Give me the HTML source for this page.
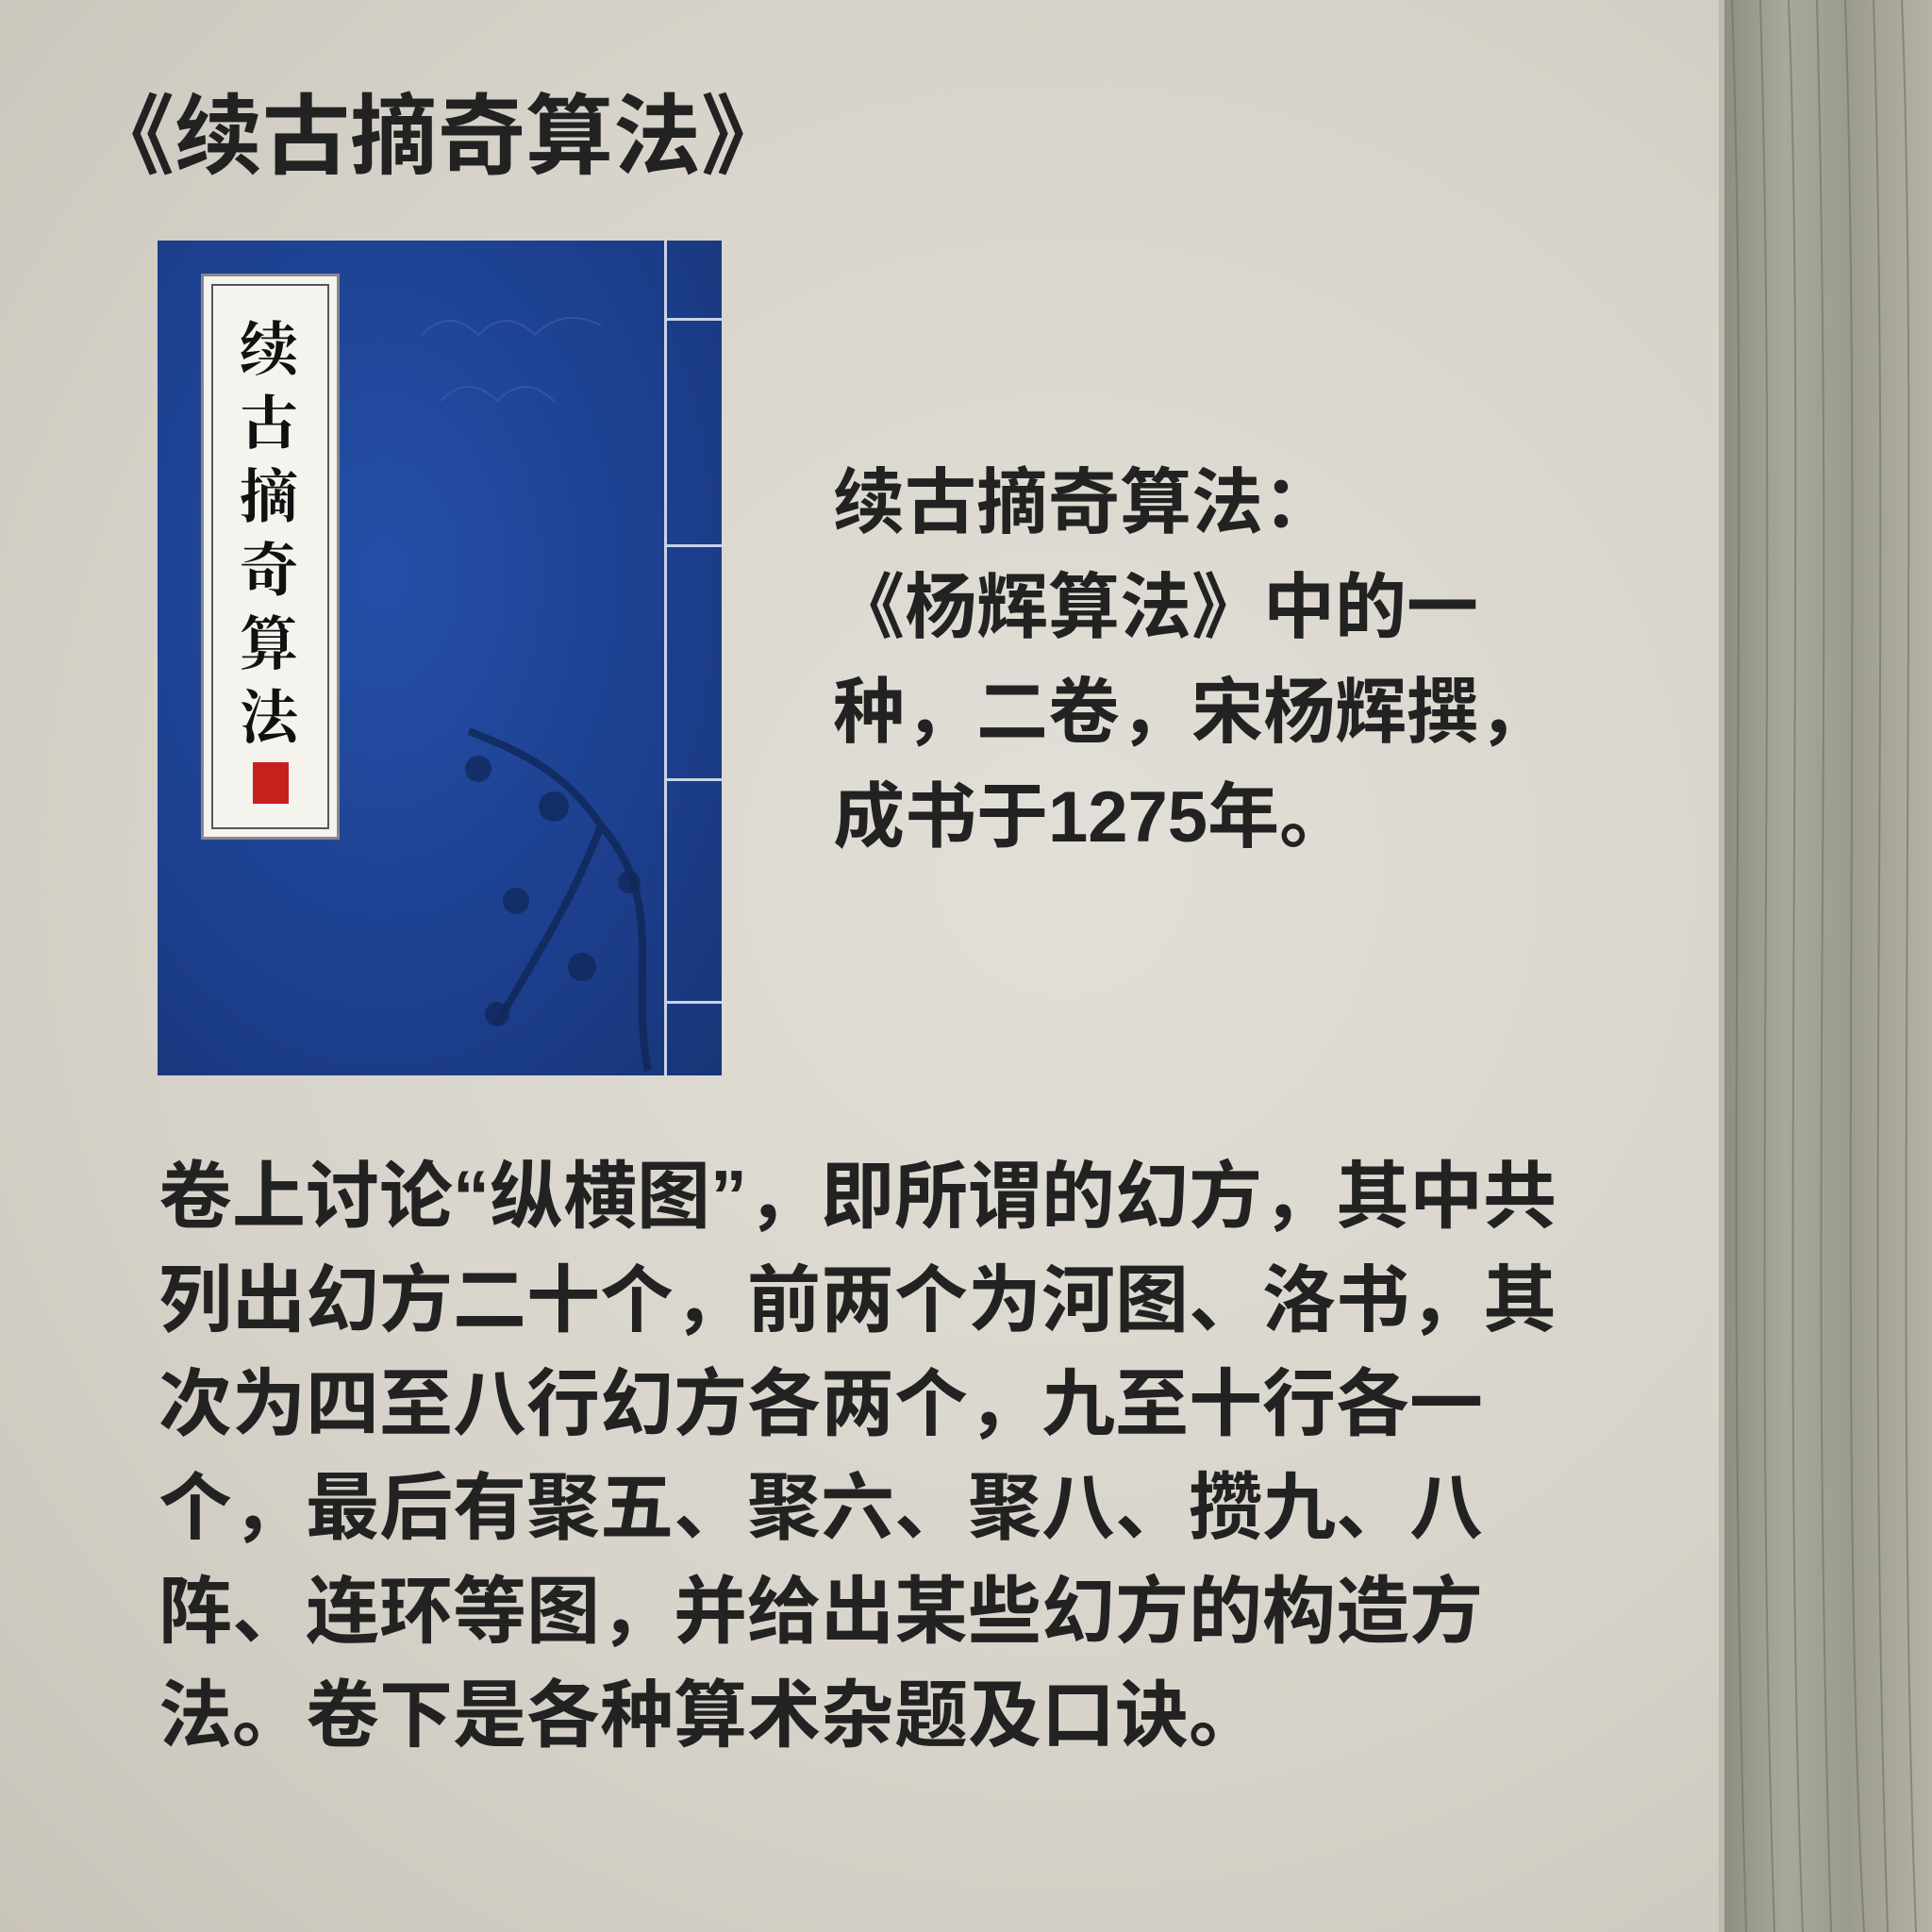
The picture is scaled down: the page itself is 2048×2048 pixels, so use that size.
<!DOCTYPE html>
<html><head><meta charset="utf-8">
<style>
html,body{margin:0;padding:0}
body{width:2048px;height:2048px;position:relative;overflow:hidden;
background:radial-gradient(ellipse at 55% 45%,#e2dfd8 0%,#d8d4cb 55%,#c9c4ba 100%);
font-family:"Liberation Sans","Noto Sans CJK SC",sans-serif;color:#222}
.t{position:absolute;font-weight:bold;white-space:pre;margin:0}
</style></head><body>
<div style="position:absolute;left:1826px;top:0;width:222px;height:2048px;background:linear-gradient(90deg,#8d8e80,#a9a99b 30%,#9c9c8d 60%,#b3b2a4);">
<svg width="222" height="2048" style="position:absolute;left:0;top:0">
<g stroke="#6f705f" stroke-width="2" fill="none" opacity="0.6">
<path d="M10 0 C30 600 0 1200 25 2048"/><path d="M40 0 C60 700 30 1300 55 2048"/>
<path d="M70 0 C90 500 60 1400 85 2048"/><path d="M100 0 C120 800 90 1200 115 2048"/>
<path d="M130 0 C150 600 120 1500 150 2048"/><path d="M160 0 C180 700 150 1300 175 2048"/>
<path d="M190 0 C210 500 180 1400 205 2048"/>
</g></svg></div>
<div style="position:absolute;left:1822px;top:0;width:6px;height:2048px;background:#bdb8ad"></div>

<div class="t" style="left:92px;top:92px;font-size:93px;line-height:106px">《续古摘奇算法》</div>

<div style="position:absolute;left:167px;top:255px;width:598px;height:885px;background:radial-gradient(ellipse at 40% 40%,#2450a8 0%,#1d3f8e 60%,#173577 100%)">
 <div style="position:absolute;left:537px;top:0;width:3px;height:885px;background:#c9d3e8"></div>
 <div style="position:absolute;left:537px;top:82px;width:61px;height:3px;background:#c9d3e8"></div>
 <div style="position:absolute;left:537px;top:322px;width:61px;height:3px;background:#c9d3e8"></div>
 <div style="position:absolute;left:537px;top:570px;width:61px;height:3px;background:#c9d3e8"></div>
 <div style="position:absolute;left:537px;top:806px;width:61px;height:3px;background:#c9d3e8"></div>
 <svg width="598" height="885" style="position:absolute;left:0;top:0">
  <g stroke="#102858" stroke-width="8" fill="none" opacity="0.8"><path d="M520 880 C500 780 540 700 470 620 C430 560 380 540 330 520"/><path d="M470 620 C440 700 400 760 360 830"/></g>
  <g fill="#102858" opacity="0.75"><circle cx="340" cy="560" r="14"/><circle cx="420" cy="600" r="16"/><circle cx="380" cy="700" r="14"/><circle cx="450" cy="770" r="15"/><circle cx="360" cy="820" r="13"/><circle cx="500" cy="680" r="12"/></g>
  <g stroke="#3a5ca8" stroke-width="2" fill="none" opacity="0.7"><path d="M280 100 q30 -30 60 0 q30 -30 60 0 q30 -30 70 -10"/><path d="M300 170 q30 -30 60 0 q30 -30 60 0"/></g>
 </svg>
 <div style="position:absolute;left:46px;top:35px;width:147px;height:600px;background:#f5f3ee;border:3px solid #888;box-sizing:border-box">
  <div style="position:absolute;left:8px;top:8px;right:8px;bottom:8px;border:2px solid #555"></div>
  <div class="t" style="left:38px;top:40px;font-size:62px;line-height:78px;font-family:'Liberation Serif','Noto Serif CJK SC',serif;white-space:normal;width:66px;color:#111">续古摘奇算法</div>
  <div style="position:absolute;left:52px;top:515px;width:38px;height:44px;background:#c8201d"></div>
 </div>
</div>

<div class="t" style="left:883px;top:478px;font-size:76px;line-height:111px">续古摘奇算法：
《杨辉算法》中的一
种，二卷，宋杨辉撰，
成书于1275年。</div>

<div class="t" style="left:168px;top:1213px;font-size:78px;line-height:110px">卷上讨论“纵横图”，即所谓的幻方，其中共
列出幻方二十个，前两个为河图、洛书，其
次为四至八行幻方各两个，九至十行各一
个，最后有聚五、聚六、聚八、攒九、八
阵、连环等图，并给出某些幻方的构造方
法。卷下是各种算术杂题及口诀。</div>
</body></html>
